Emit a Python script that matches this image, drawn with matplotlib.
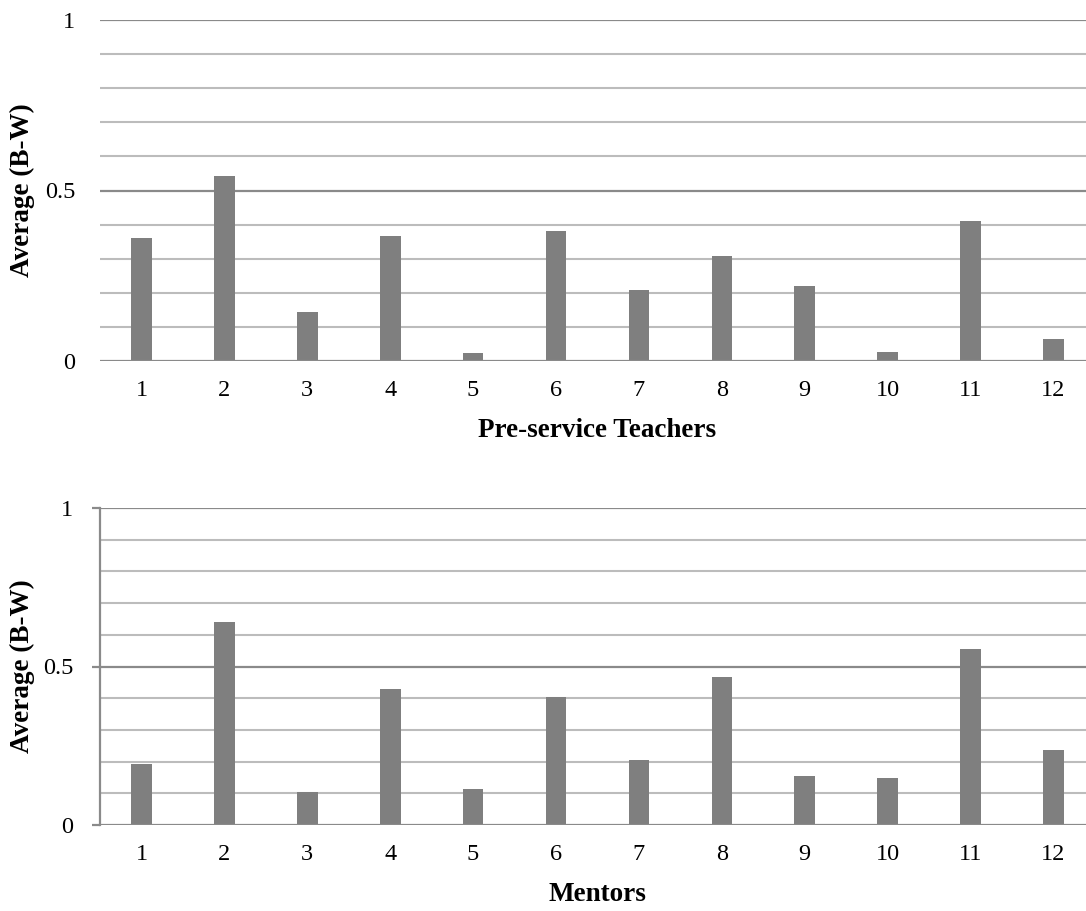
import numpy as np
import matplotlib
matplotlib.use('Agg')
import matplotlib.pyplot as plt

plt.rcParams['font.family'] = ['Liberation Serif', 'DejaVu Serif']

labels = ['1', '2', '3', '4', '5', '6', '7', '8', '9', '10', '11', '12']
teachers = [0.362, 0.543, 0.145, 0.367, 0.023, 0.381, 0.208, 0.308, 0.220, 0.026, 0.411, 0.065]
mentors = [0.192, 0.641, 0.105, 0.430, 0.112, 0.405, 0.205, 0.467, 0.155, 0.148, 0.555, 0.238]

W, H = 1086, 911
fig = plt.figure(figsize=(W/100, H/100), dpi=100)

def draw(ax, vals, xlab, spine):
    x = np.arange(len(labels))
    ax.set_xlim(-0.5, len(labels)-0.5)
    ax.set_ylim(0, 1)
    # gridlines: light every 0.1, darker at 0.5 and 1
    for v in np.arange(0.1, 1.0, 0.1):
        if abs(v-0.5) < 1e-6:
            continue
        ax.axhline(v, color='#bcbcbc', lw=1.5, zorder=0)
    for v in [0.5, 1.0]:
        ax.axhline(v, color='#8a8a8a', lw=1.6, zorder=0)
    ax.axhline(0, color='#8a8a8a', lw=1.6, zorder=3)
    ax.bar(x, vals, width=0.25, color='#7f7f7f', zorder=2)
    for s in ['top', 'right', 'bottom']:
        ax.spines[s].set_visible(False)
    if spine:
        ax.spines['left'].set_color('#8a8a8a')
        ax.spines['left'].set_linewidth(1.6)
        ax.tick_params(axis='y', length=5.8, width=1.6, color='#8a8a8a', pad=13.5)
    else:
        ax.spines['left'].set_visible(False)
        ax.tick_params(axis='y', length=0, pad=18)
    ax.set_yticks([0, 0.5, 1])
    ax.set_yticklabels(['0', '0.5', '1'])
    ax.set_xticks(x)
    ax.set_xticklabels(labels)
    ax.tick_params(axis='x', length=0, pad=14)
    ax.tick_params(labelsize=17.5)
    ax.set_xlabel(xlab, fontsize=19.5, fontweight='bold', labelpad=12)
    ax.set_ylabel('Average (B-W)', fontsize=19.5, fontweight='bold')
    ax.yaxis.set_label_coords(-0.0653, 0.5)

left = 100/W
width = 995/W
ax1 = fig.add_axes([left, 1-361/H, width, 341/H])
draw(ax1, teachers, 'Pre-service Teachers', False)
ax2 = fig.add_axes([left, 1-825/H, width, 317/H])
draw(ax2, mentors, 'Mentors', True)

fig.savefig('out.png', dpi=100)
